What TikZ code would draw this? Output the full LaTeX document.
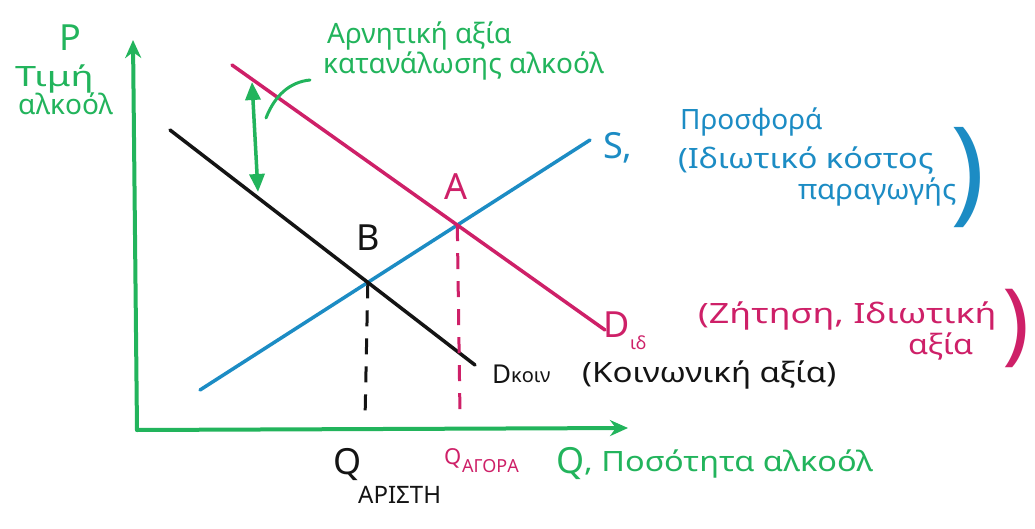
\documentclass[tikz,border=0pt]{standalone}
\usepackage{fontspec}
\usepackage{graphicx}
\setmainfont{Noto Sans}
\usetikzlibrary{arrows.meta,intersections}
\definecolor{grn}{RGB}{34,180,92}
\definecolor{mag}{RGB}{206,32,104}
\definecolor{blu}{RGB}{28,140,196}
\definecolor{ink}{RGB}{20,20,20}
\newcommand{\wid}[2]{\scalebox{#1}[1]{#2}}
\begin{document}
\begin{tikzpicture}[x=1pt,y=-1pt,
  curve/.style={line width=3.5pt, line cap=round},
  axis/.style={grn, line width=4pt, line cap=round, -{Stealth[length=18pt,width=16pt]}},
  guide/.style={line width=3pt, dash pattern=on 16pt off 12pt},
  lbl/.style={font=\fontsize{28}{30}\selectfont, inner sep=0pt, anchor=west},
  big/.style={font=\fontsize{36}{38}\selectfont, inner sep=0pt},
  sub/.style={font=\fontsize{18}{20}\selectfont, inner sep=0pt, anchor=west}]
\useasboundingbox[fill=white] (0,0) rectangle (1035,529);
% axes
\coordinate (O) at (137,430);
\coordinate (Ytop) at (133,40);
\coordinate (Xend) at (628,428);
\draw[axis] (O) -- (Ytop);
\draw[axis] (O) -- (Xend);
% curves
\coordinate (S0) at (200,390); \coordinate (S1) at (590,140);
\coordinate (Di0) at (232,65); \coordinate (Di1) at (605,330);
\coordinate (Dk0) at (170,130); \coordinate (Dk1) at (475,365);
\draw[curve, blu, name path=sup] (S0) -- (S1);
\draw[curve, mag, name path=did] (Di0) -- (Di1);
\draw[curve, ink, name path=dko] (Dk0) -- (Dk1);
\path[name intersections={of=sup and did, by=A}];
\path[name intersections={of=sup and dko, by=B}];
\coordinate (Afoot) at (460,415);
\coordinate (Bfoot) at (365,420);
\draw[guide, mag] (A) -- (Afoot);
\draw[guide, ink] (B) -- (Bfoot);
% green double arrow
\coordinate (G0) at (252,82); \coordinate (G1) at (258,192);
\draw[grn, line width=3.5pt, {Triangle[length=18pt,width=15pt]}-{Triangle[length=18pt,width=15pt]}] (G0) -- (G1);
\coordinate (C0) at (266,118); \coordinate (C1) at (310,80);
\draw[grn, line width=3pt, line cap=round] (C0) .. controls (275,95) and (290,82) .. (C1);
% axis labels
\node[big, grn] (P) at (70,38) {P};
\node[lbl, grn] (tim) at (15,79) {\wid{1.35}{Τιμή}};
\node[lbl, grn] (alk) at (18,104) {αλκοόλ};
\node[lbl, grn] (neg1) at (327,36) {Αρνητική αξία};
\node[lbl, grn] (neg2) at (323,66) {κατανάλωσης αλκοόλ};
% supply label
\node[big, blu, anchor=west] (S) at (603,148) {S,};
\node[lbl, blu] (pr1) at (680,122) {Προσφορά};
\node[lbl, blu] (pr2) at (678,160) {\wid{1.16}{(Ιδιωτικό κόστος}};
\node[lbl, blu] (pr3) at (798,192) {\wid{1.05}{παραγωγής}};
\node[blu, inner sep=0pt, font=\fontsize{115}{115}\selectfont] (pr4) at (968,178) {)};
% points
\node[big, mag] (Alab) at (456,187) {A};
\node[big, ink] (Blab) at (368,238) {B};
% D_id label
\node[big, mag, anchor=west] (Did) at (603,325) {D};
\node[sub, mag] (Didsub) at (630,343) {ιδ};
\node[lbl, mag] (z1) at (698,316) {\wid{1.28}{(Ζήτηση, Ιδιωτική}};
\node[lbl, mag] (z2) at (908,346) {\wid{1.15}{αξία}};
\node[mag, inner sep=0pt, font=\fontsize{90}{90}\selectfont] (z3) at (1016,328) {)};
% D_koin label
\node[lbl, ink, font=\fontsize{26}{28}\selectfont] (Dk) at (492,374) {D};
\node[sub, ink, font=\fontsize{20}{22}\selectfont] (Dksub) at (511,377) {κοιν};
\node[lbl, ink] (k1) at (582,375) {\wid{1.18}{(Κοινωνική αξία)}};
% quantity labels
\node[big, ink, anchor=west] (Qa) at (333,465) {Q};
\node[sub, ink, font=\fontsize{24}{26}\selectfont] (Qasub) at (358,495) {ΑΡΙΣΤΗ};
\node[lbl, mag, font=\fontsize{22}{24}\selectfont] (Qm) at (444,458) {Q};
\node[sub, mag, font=\fontsize{18}{20}\selectfont] (Qmsub) at (462,466) {ΑΓΟΡΑ};
\node[big, grn, anchor=west] (Qg) at (556,464) {Q};
\node[lbl, grn] (qty) at (584,464) {\wid{1.16}{, Ποσότητα αλκοόλ}};
\end{tikzpicture}
\end{document}
